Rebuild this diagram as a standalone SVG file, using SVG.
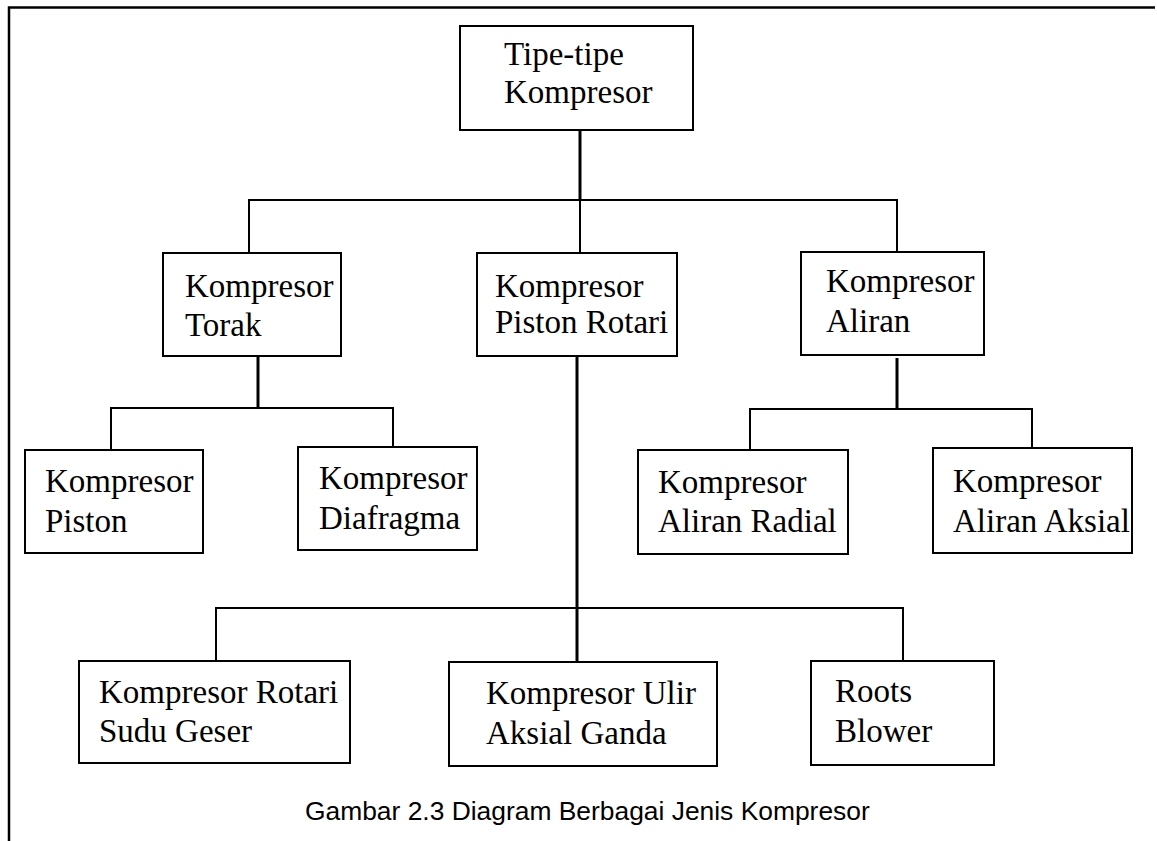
<svg xmlns="http://www.w3.org/2000/svg" width="1157" height="841" viewBox="0 0 1157 841">
<style>
.box{fill:#fff;stroke:#000;stroke-width:2}
.t{font-family:"Liberation Serif","Times New Roman",serif;font-size:33px;fill:#000}
.c{fill:none;stroke:#000;stroke-width:2}
.s{fill:none;stroke:#000;stroke-width:3}
.cap{font-family:"Liberation Sans",Arial,sans-serif;font-size:26.4px;fill:#000}
</style>
<rect width="1157" height="841" fill="#fff"/>
<g id="frame">
<path d="M9,841 V7.5 H1155" fill="none" stroke="#000" stroke-width="2.5"/>
</g>
<g id="connectors">
<path class="s" d="M580,130 V200"/>
<path class="c" d="M249,253 V200 H897 V252"/>
<path class="c" d="M580,200 V253"/>
<path class="s" d="M258,356 V408"/>
<path class="c" d="M111,450 V408 H393 V447"/>
<path class="s" d="M897,358 V409"/>
<path class="c" d="M750,450 V409 H1032 V448"/>
<path class="s" d="M577,356 V662"/>
<path class="c" d="M216,661 V608 H903 V661"/>
</g>
<g id="root">
<rect class="box" x="460" y="26" width="233" height="104"/>
<text class="t" x="504" y="65">Tipe-tipe</text>
<text class="t" x="504" y="103">Kompresor</text>
</g>
<g id="torak">
<rect class="box" x="163" y="253" width="178" height="103"/>
<text class="t" x="185" y="297">Kompresor</text>
<text class="t" x="185" y="336">Torak</text>
</g>
<g id="piston-rotari">
<rect class="box" x="477" y="253" width="200" height="103"/>
<text class="t" x="495" y="297">Kompresor</text>
<text class="t" x="495" y="333">Piston Rotari</text>
</g>
<g id="aliran">
<rect class="box" x="801" y="252" width="183" height="103"/>
<text class="t" x="826" y="292">Kompresor</text>
<text class="t" x="826" y="332">Aliran</text>
</g>
<g id="piston">
<rect class="box" x="25" y="450" width="178" height="103"/>
<text class="t" x="45" y="492">Kompresor</text>
<text class="t" x="45" y="532">Piston</text>
</g>
<g id="diafragma">
<rect class="box" x="298" y="447" width="179" height="103"/>
<text class="t" x="319" y="489">Kompresor</text>
<text class="t" x="319" y="529">Diafragma</text>
</g>
<g id="aliran-radial">
<rect class="box" x="638" y="450" width="210" height="104"/>
<text class="t" x="658" y="493">Kompresor</text>
<text class="t" x="658" y="532">Aliran Radial</text>
</g>
<g id="aliran-aksial">
<rect class="box" x="933" y="448" width="199" height="105"/>
<text class="t" x="953" y="492">Kompresor</text>
<text class="t" x="953" y="532">Aliran Aksial</text>
</g>
<g id="sudu-geser">
<rect class="box" x="79" y="661" width="271" height="102"/>
<text class="t" x="99" y="703">Kompresor Rotari</text>
<text class="t" x="99" y="742">Sudu Geser</text>
</g>
<g id="ulir">
<rect class="box" x="449" y="662" width="268" height="104"/>
<text class="t" x="486" y="704">Kompresor Ulir</text>
<text class="t" x="486" y="744">Aksial Ganda</text>
</g>
<g id="roots">
<rect class="box" x="811" y="661" width="183" height="104"/>
<text class="t" x="835" y="702">Roots</text>
<text class="t" x="835" y="742">Blower</text>
</g>
<g id="caption">
<text class="cap" x="305" y="820">Gambar 2.3 Diagram Berbagai Jenis Kompresor</text>
</g>
</svg>
